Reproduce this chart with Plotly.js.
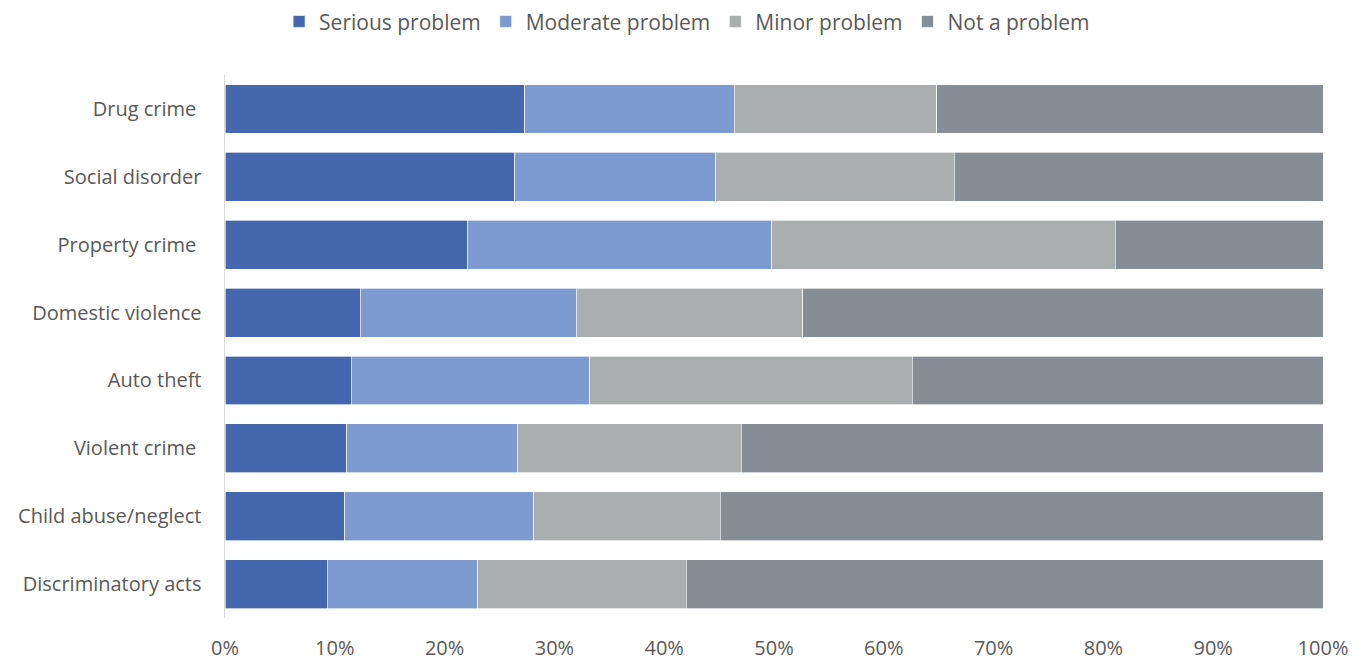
<!DOCTYPE html>
<html>
<head>
<meta charset="utf-8">
<script src="https://cdn.plot.ly/plotly-3.0.1.min.js"></script>
<style>
  html, body { margin: 0; padding: 0; background: #ffffff; }
  #chart { width: 1366px; height: 660px; }
</style>
</head>
<body>
<div id="chart"></div>
<script>
// Perceived severity of local problems, share of respondents (%)
const categories = [
  'Drug crime\u00a0',
  'Social disorder',
  'Property crime\u00a0',
  'Domestic violence',
  'Auto theft',
  'Violent crime\u00a0',
  'Child abuse/neglect',
  'Discriminatory acts'
];

const seriesNames = ['Serious problem', 'Moderate problem', 'Minor problem', 'Not a problem'];

const serious  = [27.3, 26.4, 22.1, 12.3, 11.5, 11.1, 10.9,  9.3];
const moderate = [19.1, 18.3, 27.7, 19.7, 21.7, 15.5, 17.2, 13.7];
const minor    = [18.4, 21.7, 31.3, 20.6, 29.4, 20.4, 17.0, 19.0];
const notAProblem = [35.2, 33.6, 18.9, 47.4, 37.4, 53.0, 54.9, 58.0];

const xTickValues = [0, 10, 20, 30, 40, 50, 60, 70, 80, 90, 100];
const xTickLabels = ['0%', '10%', '20%', '30%', '40%', '50%', '60%', '70%', '80%', '90%', '100%'];

const seriesValues = [serious, moderate, minor, notAProblem];
const seriesColors = ['#4467ae', '#7d9bd0', '#abaeaf', '#868d94'];

const FONT = '"Open Sans", "DejaVu Sans", sans-serif';
const TEXT_COLOR = '#595959';

const traces = seriesValues.map((vals, i) => ({
  type: 'bar',
  orientation: 'h',
  name: seriesNames[i],
  y: categories,
  x: vals,
  marker: {
    color: seriesColors[i],
    line: { color: 'rgba(255,255,255,0.8)', width: 0.8 }
  },
  hovertemplate: '%{y}: %{x}%<extra>' + seriesNames[i] + '</extra>'
}));

const layout = {
  width: 1366,
  height: 660,
  paper_bgcolor: '#ffffff',
  plot_bgcolor: '#ffffff',
  barmode: 'stack',
  bargap: 0.28,
  margin: { l: 225, r: 43, t: 75, b: 42 },
  font: { family: FONT, size: 20, color: TEXT_COLOR },
  showlegend: true,
  legend: {
    orientation: 'h',
    xref: 'container',
    x: 0.503,
    xanchor: 'center',
    yref: 'container',
    y: 0.967,
    yanchor: 'middle',
    font: { family: FONT, size: 21, color: TEXT_COLOR },
    itemwidth: 30,
    traceorder: 'normal'
  },
  xaxis: {
    range: [0, 100],
    tickmode: 'array',
    tickvals: xTickValues,
    ticktext: xTickLabels,
    showgrid: false,
    zeroline: false,
    showline: false,
    ticks: '',
    ticklabelstandoff: 16,
    tickfont: { family: FONT, size: 20, color: TEXT_COLOR },
    fixedrange: true
  },
  yaxis: {
    type: 'category',
    autorange: 'reversed',
    showgrid: false,
    zeroline: false,
    showline: true,
    linecolor: '#d9d9d9',
    linewidth: 1.5,
    ticks: '',
    ticklabelstandoff: 18,
    tickfont: { family: FONT, size: 20, color: TEXT_COLOR },
    fixedrange: true
  }
};

Plotly.newPlot('chart', traces, layout, { displayModeBar: false, staticPlot: true });
</script>
</body>
</html>
